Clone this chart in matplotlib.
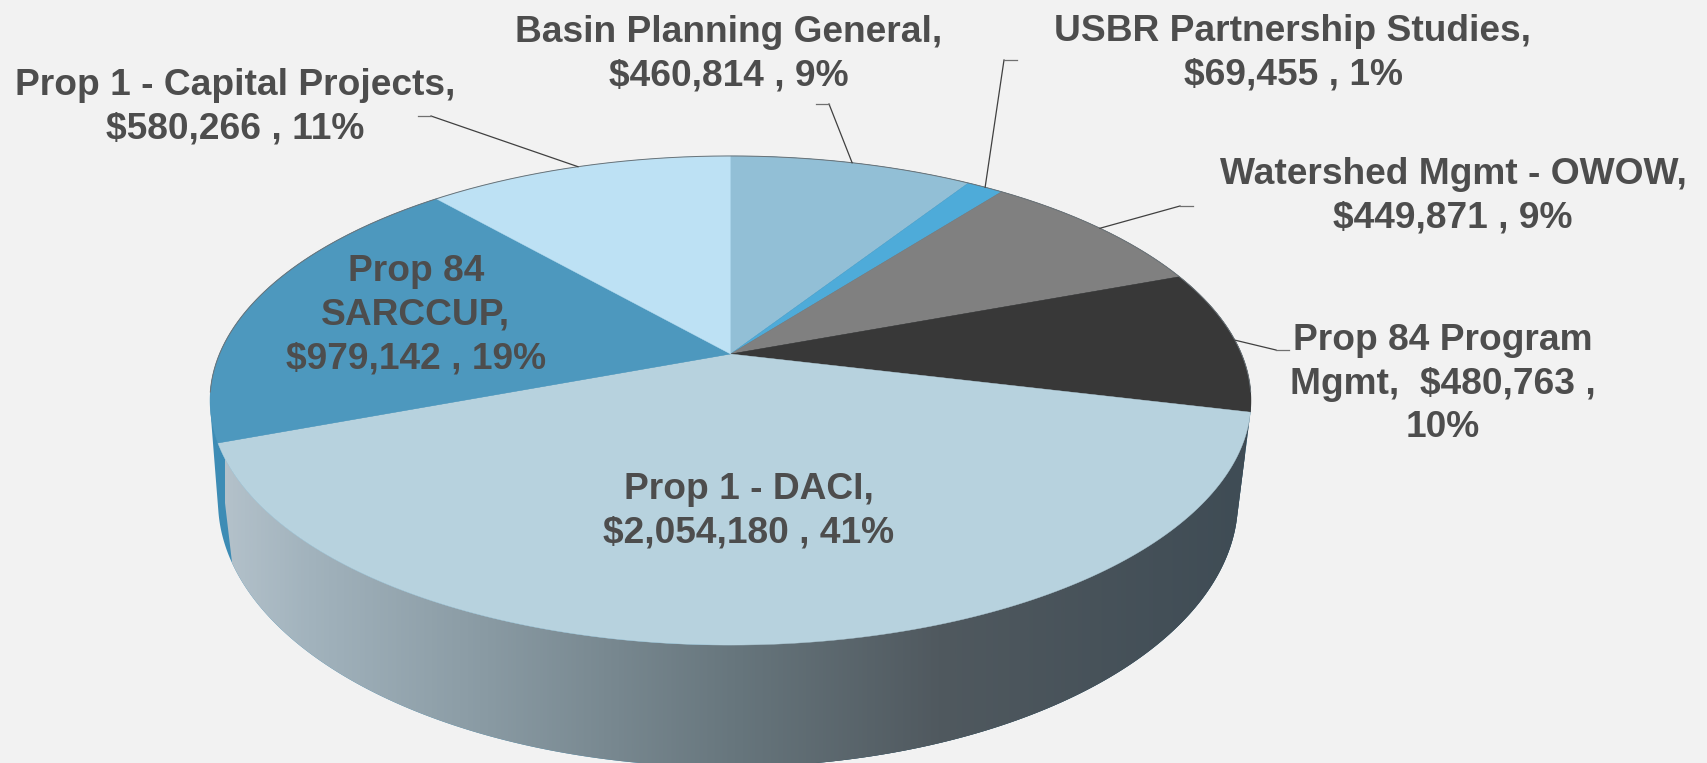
# -*- coding: utf-8 -*-
# Pizza 3D em perspectiva: orcamento por programa
import numpy as np
import matplotlib
matplotlib.use("Agg")
import matplotlib.pyplot as plt
from matplotlib.colors import LinearSegmentedColormap
from matplotlib.patches import Polygon

plt.rcParams["font.family"] = ["Liberation Sans", "DejaVu Sans"]

# dados, em sentido horario a partir do topo
categorias = ["Basin Planning General", "USBR Partnership Studies", "Watershed Mgmt - OWOW",
              "Prop 84 Program Mgmt", "Prop 1 - DACI", "Prop 84 SARCCUP", "Prop 1 - Capital Projects"]
valores = [460814, 69455, 449871, 480763, 2054180, 979142, 580266]
rotulos = ["Basin Planning General,\n$460,814 , 9%",
           "USBR Partnership Studies,\n$69,455 , 1%",
           "Watershed Mgmt - OWOW,\n$449,871 , 9%",
           "Prop 84 Program\nMgmt,  $480,763 ,\n10%",
           "Prop 1 - DACI,\n$2,054,180 , 41%",
           "Prop 84\nSARCCUP,\n$979,142 , 19%",
           "Prop 1 - Capital Projects,\n$580,266 , 11%"]
cores = ["#92bfd6", "#4eabd9", "#808080", "#383838", "#b7d2de", "#4d98be", "#bde1f4"]

# posicao dos rotulos e cotovelos das linhas de chamada (pixels)
pos_rotulos = [(729, 54), (1293, 53), (1453, 196), (1443, 384), (749, 511), (416, 315), (235, 107)]
chamadas = [((829, 104), (816, 104)), ((1004, 60), (1017, 60)), ((1180, 206), (1193, 206)),
            ((1276, 350), (1289, 350)), None, None, ((431, 116), (418, 116))]

FUNDO = "#f2f2f2"; TEXTO = "#4d4d4d"; LINHA = "#404040"
W, H = 1707, 763
CX, CY, A, B, K = 730.5, 354.0, 511.0, 235.7, 0.1902      # topo: projecao do circulo
LX, LY, LA, LB = 728.0, 501.0, 510.0, 266.0               # elipse inferior


def aro(theta):
    # theta em radianos, horario a partir do topo -> ponto na borda em perspectiva
    u, v = np.sin(theta), -np.cos(theta)
    d = 1 - K * v
    return CX + A * u / d, CY + B * v / d


def fundo_pt(phi):
    return LX + LA * np.cos(phi), LY + LB * np.sin(phi)


def casco(pts):
    # casco convexo (monotone chain)
    pts = sorted(map(tuple, pts))
    def meia(seq):
        out = []
        for p in seq:
            while len(out) > 1 and ((out[-1][0]-out[-2][0])*(p[1]-out[-2][1])
                                    - (out[-1][1]-out[-2][1])*(p[0]-out[-2][0])) <= 0:
                out.pop()
            out.append(p)
        return out[:-1]
    return np.array(meia(pts) + meia(pts[::-1]))


fig = plt.figure(figsize=(W / 100, H / 100), dpi=100, facecolor=FUNDO)
ax = fig.add_axes([0, 0, 1, 1])
ax.axis("off")

frac = np.array(valores) / np.sum(valores)
lim = np.concatenate([[0], np.cumsum(frac)]) * 2 * np.pi

# lateral: casco convexo das duas elipses
t = np.linspace(0, 2 * np.pi, 720)
p = np.linspace(0, 2 * np.pi, 720)
sup = np.column_stack(aro(t))
inf = np.column_stack(fundo_pt(p))
hull = casco(np.vstack([sup, inf]))
ax.fill(hull[:, 0], hull[:, 1], color="#3d8cb5", lw=0, zorder=1)
dir_ = hull[hull[:, 0] > CX]
ax.fill(dir_[:, 0], dir_[:, 1], color="#3c4850", lw=0, zorder=1)

# lateral da fatia DACI com degrade horizontal
t_daci = np.linspace(lim[4], lim[5], 200)
xs, ys = aro(t_daci)
ph = np.linspace(np.radians(4), np.radians(166.5), 200)
xi, yi = fundo_pt(ph)
lado = Polygon(np.column_stack([np.r_[xs, xi[::-1]], np.r_[ys, yi[::-1]]]), closed=True,
               transform=ax.transData, fc="none", ec="none")
ax.add_patch(lado)
cmap = LinearSegmentedColormap.from_list("lado", [(0, "#b3c1ca"), (0.08, "#a2b3bd"), (0.25, "#8a9ba4"),
                                                  (0.5, "#67767d"), (0.7, "#50595f"), (1, "#3f4c55")])
im = ax.imshow(np.linspace(0, 1, 512)[None, :], cmap=cmap, aspect="auto",
               extent=[225, 1245, H, 0], zorder=2)
im.set_clip_path(lado)

# tampo
for i, c in enumerate(cores):
    tt = np.linspace(lim[i], lim[i + 1], 160)
    x, y = aro(tt)
    ax.fill(np.r_[CX, x], np.r_[CY, y], color=c, lw=0.3, ec=c, zorder=3)
x, y = aro(np.linspace(-np.pi * 0.55, np.pi * 0.55, 300))
ax.plot(x, y, color="#6b7378", lw=0.7, zorder=4)

# linhas de chamada
for i, ch in enumerate(chamadas):
    if ch is None:
        continue
    xr, yr = aro((lim[i] + lim[i + 1]) / 2)
    ax.plot([xr, ch[0][0]], [yr, ch[0][1]], color=LINHA, lw=0.9, zorder=4)
    ax.plot([ch[0][0], ch[1][0]], [ch[0][1], ch[1][1]], color="#707070", lw=0.9, zorder=4)

# rotulos
for r, (tx, ty) in zip(rotulos, pos_rotulos):
    ax.text(tx, ty, r, ha="center", va="center", color=TEXTO, fontsize=26.7,
            fontweight="bold", linespacing=1.33, zorder=5)

ax.set_xlim(0, W)
ax.set_ylim(H, 0)
fig.savefig("out.png", dpi=100, facecolor=FUNDO)
plt.close(fig)
